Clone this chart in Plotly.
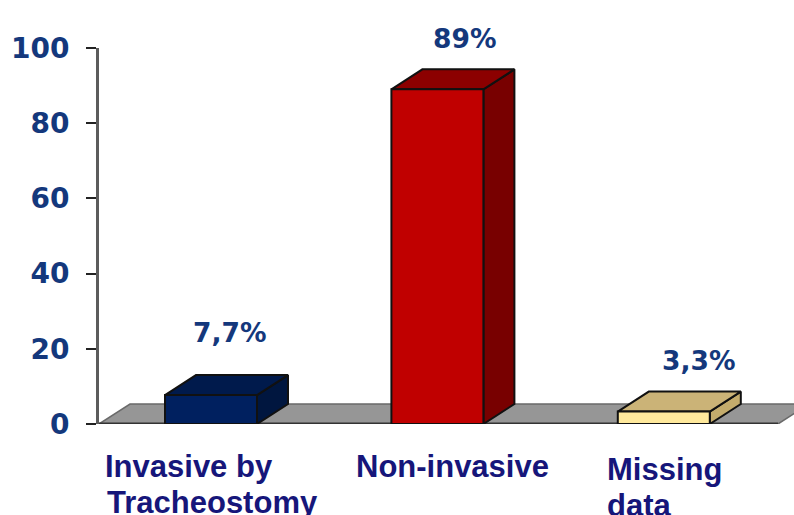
import plotly.graph_objects as go

categories = ["Invasive by Tracheostomy", "Non-invasive", "Missing data"]
values = [7.7, 89, 3.3]
value_labels = ["7,7%", "89%", "3,3%"]
tick_values = [0, 20, 40, 60, 80, 100]
label_lines = [["Invasive by", "Tracheostomy"], ["Non-invasive"], ["Missing", "data"]]

front_colors = ["#00205f", "#c00000", "#ffe99c"]
top_colors = ["#001a4c", "#8c0000", "#cbb377"]
side_colors = ["#00163f", "#780000", "#c4ac6c"]

WIDTH, HEIGHT = 794, 515
LEFT, TOP, BOTTOM = 99, 48, 91
X_UNIT = 226.4          # pixels per category
CENTER0 = 211           # pixel centre of the first category
Y_UNIT = (HEIGHT - BOTTOM - TOP) / 100

x_min = (LEFT - CENTER0) / X_UNIT
x_max = (WIDTH - CENTER0) / X_UNIT
half = 46 / X_UNIT
dx = 31 / X_UNIT        # oblique depth of the 3D projection
dy = 20 / Y_UNIT


def poly(xs, ys, fill, line="#111111", width=2):
    return go.Scatter(
        x=xs + xs[:1], y=ys + ys[:1], mode="lines", fill="toself",
        fillcolor=fill, line=dict(color=line, width=width),
        hoverinfo="skip", showlegend=False,
    )


fig = go.Figure()

# Floor plane
floor_end = (778 - CENTER0) / X_UNIT
fig.add_trace(poly(
    [x_min, x_min + dx, floor_end + dx, floor_end],
    [0, dy, dy, 0], "#969696", line="#6a6a6a", width=1.5,
))
fig.add_trace(go.Scatter(
    x=[x_min, floor_end], y=[0, 0], mode="lines",
    line=dict(color="#333333", width=3), hoverinfo="skip", showlegend=False,
))

# Extruded columns: side, top, then front face
for i, v in enumerate(values):
    l, r = i - half, i + half
    fig.add_trace(poly([r, r + dx, r + dx, r], [0, dy, v + dy, v], side_colors[i]))
    fig.add_trace(poly([l, r, r + dx, l + dx], [v, v, v + dy, v + dy], top_colors[i]))
    fig.add_trace(poly([l, r, r, l], [0, 0, v, v], front_colors[i]))

annotations = []

# Value labels above each column
label_px = [(230, 332), (464, 39), (699, 360)]
for text, (px, py) in zip(value_labels, label_px):
    annotations.append(dict(
        text=text, xref="x", yref="paper",
        x=(px - CENTER0) / X_UNIT, y=1 - (py - TOP) / (HEIGHT - BOTTOM - TOP),
        xanchor="center", yanchor="middle", showarrow=False,
        font=dict(family="DejaVu Sans", size=26.5, color="#14387c", weight="bold"),
    ))

# Category labels, left-aligned under the floor
line_px = [[(105, 466), (107, 502)], [(356, 466)], [(607, 469), (607, 505)]]
for lines, coords in zip(label_lines, line_px):
    for text, (px, py) in zip(lines, coords):
        annotations.append(dict(
            text=text, xref="x", yref="paper",
            x=(px - CENTER0) / X_UNIT, y=1 - (py - TOP) / (HEIGHT - BOTTOM - TOP),
            xanchor="left", yanchor="middle", xshift=-2, showarrow=False,
            font=dict(family="Liberation Sans", size=31, color="#16167a", weight="bold"),
        ))

fig.update_layout(
    width=WIDTH, height=HEIGHT,
    margin=dict(l=LEFT, r=0, t=TOP, b=BOTTOM, pad=0),
    paper_bgcolor="white", plot_bgcolor="white",
    showlegend=False, annotations=annotations,
    xaxis=dict(range=[x_min, x_max], visible=False, fixedrange=True),
    yaxis=dict(
        range=[0, 100], tickmode="array", tickvals=tick_values,
        ticks="outside", ticklen=10, tickwidth=2, tickcolor="#222222",
        showgrid=False, zeroline=False, showline=True,
        linecolor="#5c5c5c", linewidth=3, ticklabelstandoff=11,
        tickfont=dict(family="DejaVu Sans", size=28, color="#14387c", weight="bold"),
        fixedrange=True,
    ),
)

fig.write_html("out.html", config=dict(displayModeBar=False))
